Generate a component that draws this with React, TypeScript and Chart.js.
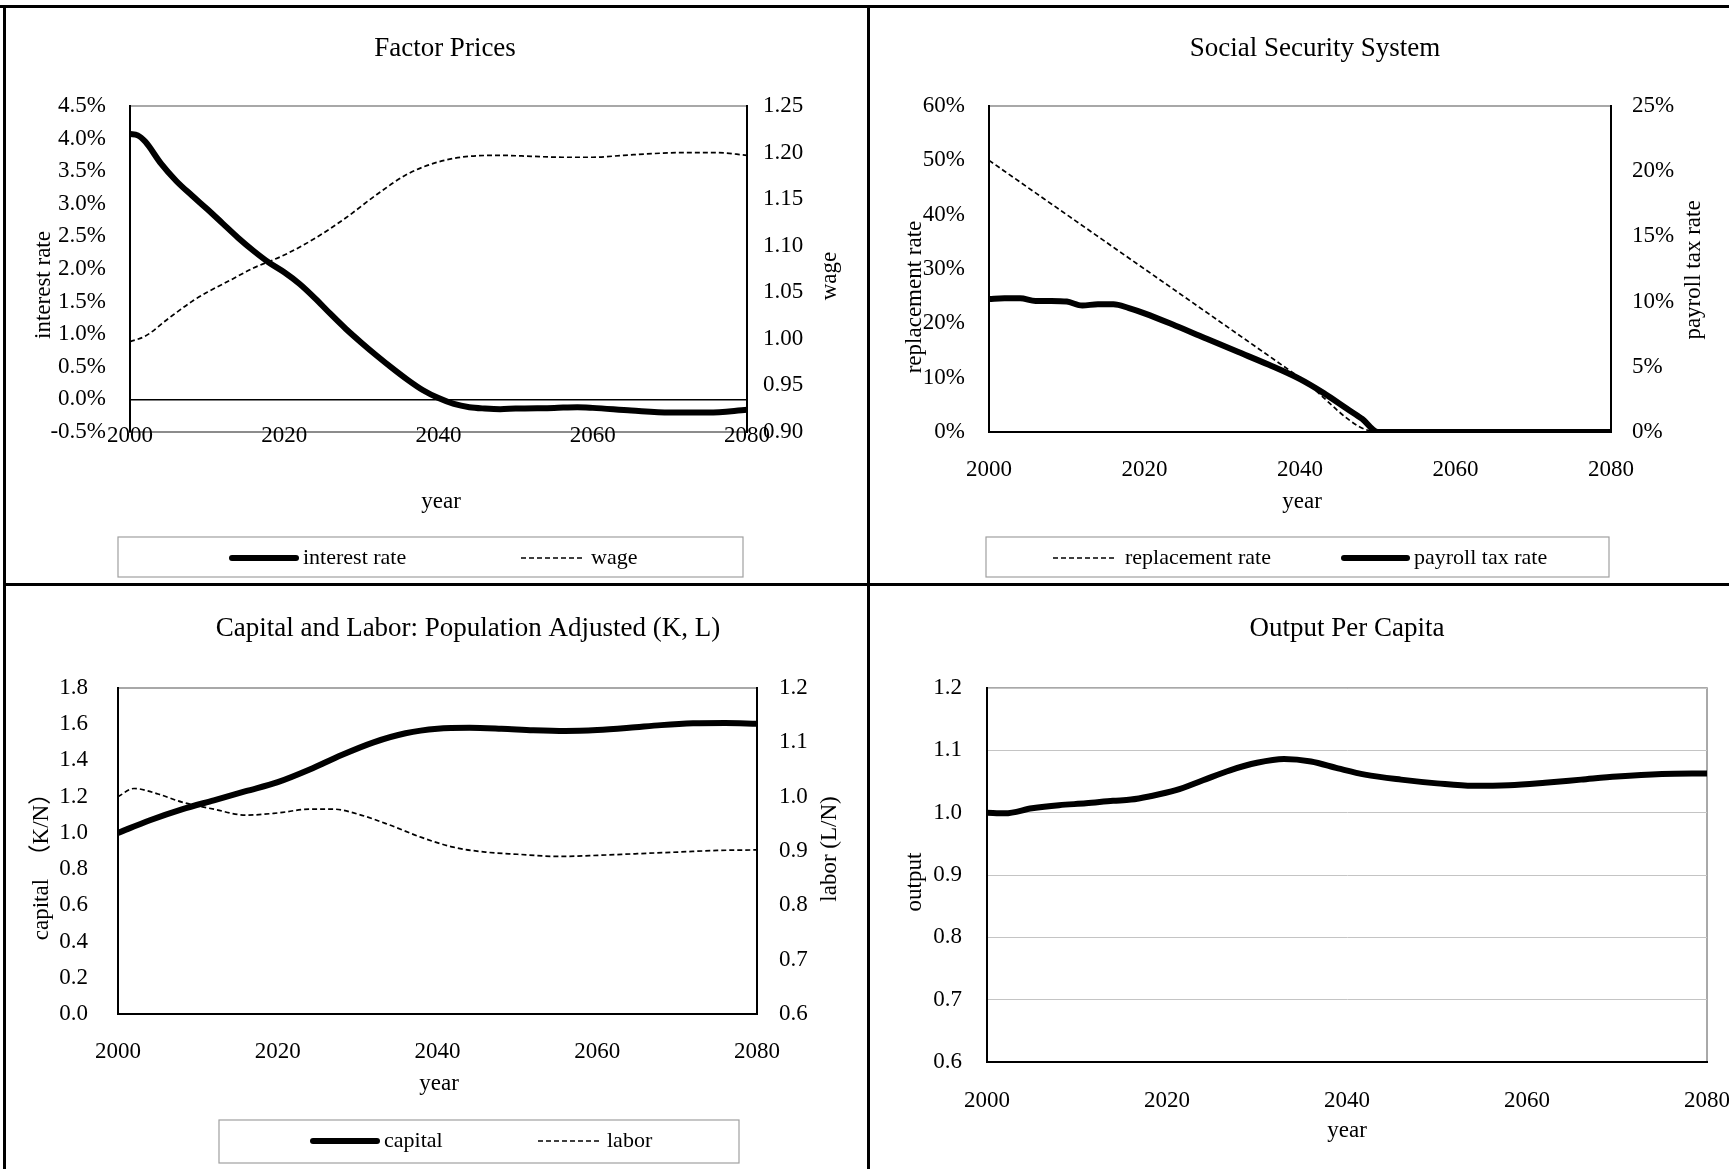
import React, { useEffect, useRef } from "react";
import { Chart, registerables } from "chart.js";
Chart.register(...registerables);

const FONT = '"Liberation Serif", "Times New Roman", "Noto Sans CJK JP", serif';
const TICK = 23;
const TITLE = 27;
const AXT = 23;
const LEG = 22;

// ---------- Factor Prices ----------
const YEARS_RATE = [2000, 2001, 2002, 2004, 2006, 2008, 2010, 2012, 2014, 2016, 2018, 2020, 2022, 2024, 2026, 2028, 2030, 2032, 2034, 2036, 2038, 2040, 2042, 2044, 2046, 2048, 2050, 2055, 2058, 2060, 2065, 2070, 2075, 2080];
const INTEREST_RATE = [4.07, 4.05, 3.95, 3.62, 3.35, 3.13, 2.92, 2.7, 2.48, 2.28, 2.1, 1.95, 1.77, 1.55, 1.31, 1.08, 0.87, 0.67, 0.48, 0.3, 0.14, 0.02, -0.07, -0.12, -0.14, -0.15, -0.14, -0.13, -0.12, -0.13, -0.17, -0.2, -0.2, -0.16];
const YEARS_WAGE = [2000, 2002, 2005, 2008, 2010, 2013, 2016, 2020, 2024, 2028, 2032, 2036, 2040, 2044, 2048, 2052, 2056, 2060, 2064, 2068, 2072, 2076, 2080];
const WAGE = [0.997, 1.003, 1.022, 1.04, 1.05, 1.063, 1.076, 1.09, 1.108, 1.13, 1.155, 1.177, 1.19, 1.196, 1.197, 1.196, 1.195, 1.195, 1.197, 1.199, 1.2, 1.2, 1.197];

// ---------- Social Security System ----------
const YEARS_REPL = [2000, 2010, 2020, 2030, 2040, 2050, 2060, 2070, 2080];
const REPLACEMENT_RATE = [50, 40, 30, 20, 10, 0, 0, 0, 0];
const YEARS_TAX = [2000, 2002, 2004, 2006, 2008, 2010, 2012, 2014, 2016, 2018, 2020, 2024, 2028, 2032, 2036, 2040, 2043, 2046, 2048, 2050, 2060, 2070, 2080];
const PAYROLL_TAX = [10.2, 10.25, 10.25, 10.05, 10.05, 10.0, 9.7, 9.8, 9.8, 9.5, 9.1, 8.15, 7.15, 6.15, 5.15, 4.05, 3.0, 1.8, 1.0, 0, 0, 0, 0];

// ---------- Capital and Labor ----------
const YEARS_K = [2000, 2004, 2008, 2012, 2016, 2020, 2024, 2028, 2032, 2036, 2040, 2044, 2048, 2052, 2056, 2060, 2064, 2068, 2072, 2076, 2080];
const CAPITAL = [1.0, 1.07, 1.13, 1.18, 1.23, 1.28, 1.35, 1.43, 1.5, 1.55, 1.575, 1.58, 1.575, 1.567, 1.563, 1.568, 1.58, 1.595, 1.605, 1.607, 1.603];
const YEARS_L = [2000, 2002, 2005, 2008, 2012, 2016, 2020, 2024, 2027, 2030, 2034, 2038, 2042, 2046, 2050, 2055, 2060, 2065, 2070, 2075, 2080];
const LABOR = [1.0, 1.015, 1.005, 0.99, 0.977, 0.966, 0.97, 0.977, 0.977, 0.968, 0.948, 0.925, 0.907, 0.898, 0.894, 0.89, 0.892, 0.895, 0.898, 0.901, 0.902];

// ---------- Output Per Capita ----------
const YEARS_Y = [2000, 2002, 2005, 2008, 2011, 2014, 2016, 2018, 2021, 2024, 2027, 2030, 2033, 2036, 2039, 2042, 2046, 2050, 2054, 2058, 2062, 2066, 2070, 2075, 2080];
const OUTPUT = [1.0, 0.999, 1.007, 1.012, 1.015, 1.019, 1.021, 1.026, 1.036, 1.052, 1.068, 1.08, 1.086, 1.082, 1.071, 1.061, 1.053, 1.047, 1.043, 1.044, 1.048, 1.053, 1.058, 1.062, 1.063];

const X_MIN = 2000;
const X_MAX = 2080;
const X_STEP = 20;

const pts = (xs: number[], ys: number[]) => xs.map((x, i) => ({ x, y: ys[i] }));

const solid = (label: string, xs: number[], ys: number[], axis: string) => ({
  label,
  data: pts(xs, ys),
  yAxisID: axis,
  borderColor: "#000",
  borderWidth: 6,
  borderCapStyle: "round",
  borderJoinStyle: "round",
  pointRadius: 0,
  cubicInterpolationMode: "monotone",
  fill: false,
});
const dashed = (label: string, xs: number[], ys: number[], axis: string) => ({
  label,
  data: pts(xs, ys),
  yAxisID: axis,
  borderColor: "#000",
  borderWidth: 1.7,
  borderDash: [5, 3],
  pointRadius: 0,
  cubicInterpolationMode: "monotone",
  fill: false,
});

type TextItem = { text: string; x: number; y: number; size: number; rot?: boolean };
type LegendItem = { ds: number; x1: number; x2: number; tx: number };
type Decor = {
  ox: number;
  oy: number;
  texts: TextItem[];
  legend?: { box: [number, number, number, number]; cy: number; items: LegendItem[] };
};

function makeDecor(d: Decor) {
  return {
    id: "decor",
    beforeDraw(chart: any) {
      const { ctx, chartArea: ca } = chart;
      ctx.save();
      ctx.strokeStyle = "#8c8c8c";
      ctx.lineWidth = 1.5;
      ctx.strokeRect(ca.left, ca.top, ca.right - ca.left, ca.bottom - ca.top);
      ctx.restore();
    },
    afterDraw(chart: any) {
      const ctx = chart.ctx;
      ctx.save();
      ctx.translate(-d.ox, -d.oy);
      ctx.fillStyle = "#000";
      ctx.textAlign = "center";
      ctx.textBaseline = "middle";
      for (const t of d.texts) {
        ctx.save();
        ctx.translate(t.x, t.y);
        if (t.rot) ctx.rotate(-Math.PI / 2);
        ctx.font = `${t.size}px ${FONT}`;
        ctx.fillText(t.text, 0, 0);
        ctx.restore();
      }
      if (d.legend) {
        const L = d.legend;
        ctx.strokeStyle = "#a0a0a0";
        ctx.lineWidth = 1.2;
        ctx.strokeRect(L.box[0], L.box[1], L.box[2] - L.box[0], L.box[3] - L.box[1]);
        for (const it of L.items) {
          const ds = chart.data.datasets[it.ds];
          ctx.save();
          ctx.beginPath();
          ctx.strokeStyle = "#000";
          ctx.lineWidth = ds.borderWidth;
          ctx.setLineDash(ds.borderDash || []);
          ctx.lineCap = ds.borderDash ? "butt" : "round";
          ctx.moveTo(it.x1, L.cy);
          ctx.lineTo(it.x2, L.cy);
          ctx.stroke();
          ctx.restore();
          ctx.textAlign = "left";
          ctx.font = `${LEG}px ${FONT}`;
          ctx.fillText(ds.label, it.tx, L.cy);
        }
      }
      ctx.restore();
    },
  };
}

type Box = { x0: number; y0: number; w: number; h: number; l: number; r: number; t: number; b: number };

const tickFont = { family: FONT, size: TICK };

function yAxis(pos: string, min: number, max: number, step: number, fmt: (v: number) => string, pad: number, width: number, grid: any = { display: false, drawTicks: false }, borderColor = "#000") {
  return {
    type: "linear",
    position: pos,
    min,
    max,
    ticks: { stepSize: step, padding: pad, callback: (v: any) => fmt(Number(v)), font: tickFont, color: "#000", autoSkip: false },
    grid,
    border: { display: true, color: borderColor, width: 2 },
    afterFit: (s: any) => {
      s.width = width;
      s.paddingTop = 0;
      s.paddingBottom = 0;
    },
  };
}

function xAxis(bx: Box, pad: number, borderColor = "#000", mirror = false) {
  return {
    type: "linear",
    position: "bottom",
    min: X_MIN,
    max: X_MAX,
    ticks: { stepSize: X_STEP, padding: pad, mirror, callback: (v: any) => String(v), font: tickFont, color: "#000", autoSkip: false, maxRotation: 0 },
    grid: { display: false, drawTicks: false },
    border: { display: true, color: borderColor, width: 2 },
    afterFit: (s: any) => {
      s.height = bx.y0 + bx.h - bx.b;
      s.paddingLeft = 0;
      s.paddingRight = 0;
    },
  };
}

function baseOptions(bx: Box, scales: any, padRight = 0) {
  return {
    responsive: false,
    animation: false,
    events: [],
    layout: { padding: { top: bx.t - bx.y0, left: 0, right: padRight, bottom: 0 } },
    plugins: { legend: { display: false }, title: { display: false }, tooltip: { enabled: false } },
    scales,
  };
}

type PanelSpec = { id: string; box: Box; build: () => any };

const B1: Box = { x0: 6, y0: 9, w: 860, h: 574, l: 130, r: 747, t: 106, b: 432 };
const B2: Box = { x0: 870, y0: 9, w: 859, h: 574, l: 989, r: 1611, t: 106, b: 432 };
const B3: Box = { x0: 6, y0: 587, w: 860, h: 582, l: 118, r: 757, t: 688, b: 1014 };
const B4: Box = { x0: 870, y0: 587, w: 859, h: 582, l: 987, r: 1707, t: 688, b: 1062 };

const PANELS: PanelSpec[] = [
  {
    id: "p1",
    box: B1,
    build: () => ({
      type: "line",
      data: {
        datasets: [solid("interest rate", YEARS_RATE, INTEREST_RATE, "y"), dashed("wage", YEARS_WAGE, WAGE, "y1")],
      },
      options: baseOptions(B1, {
        x: xAxis(B1, -17.8, "#8c8c8c", true),
        y: yAxis("left", -0.5, 4.5, 0.5, (v) => v.toFixed(1) + "%", 24, B1.l - B1.x0, {
          display: true,
          drawTicks: false,
          lineWidth: 1.5,
          color: (c: any) => (c.tick && Math.abs(c.tick.value) < 1e-9 ? "#000" : "rgba(0,0,0,0)"),
        }),
        y1: yAxis("right", 0.9, 1.25, 0.05, (v) => v.toFixed(2), 16, B1.x0 + B1.w - B1.r),
      }),
      plugins: [
        makeDecor({
          ox: B1.x0,
          oy: B1.y0,
          texts: [
            { text: "Factor Prices", x: 445, y: 49, size: TITLE },
            { text: "interest rate", x: 44, y: 285, size: AXT, rot: true },
            { text: "wage", x: 830, y: 276, size: AXT, rot: true },
            { text: "year", x: 441, y: 502, size: AXT },
          ],
          legend: {
            box: [118, 537, 743, 577],
            cy: 558,
            items: [
              { ds: 0, x1: 232, x2: 296, tx: 303 },
              { ds: 1, x1: 521, x2: 583, tx: 591 },
            ],
          },
        }),
      ],
    }),
  },
  {
    id: "p2",
    box: B2,
    build: () => ({
      type: "line",
      data: {
        datasets: [dashed("replacement rate", YEARS_REPL, REPLACEMENT_RATE, "y"), solid("payroll tax rate", YEARS_TAX, PAYROLL_TAX, "y1")],
      },
      options: baseOptions(B2, {
        x: xAxis(B2, 24),
        y: yAxis("left", 0, 60, 10, (v) => Math.round(v) + "%", 24, B2.l - B2.x0),
        y1: yAxis("right", 0, 25, 5, (v) => Math.round(v) + "%", 21, B2.x0 + B2.w - B2.r),
      }),
      plugins: [
        makeDecor({
          ox: B2.x0,
          oy: B2.y0,
          texts: [
            { text: "Social Security System", x: 1315, y: 49, size: TITLE },
            { text: "replacement rate", x: 915, y: 297, size: AXT, rot: true },
            { text: "payroll tax rate", x: 1694, y: 270, size: AXT, rot: true },
            { text: "year", x: 1302, y: 502, size: AXT },
          ],
          legend: {
            box: [986, 537, 1609, 577],
            cy: 558,
            items: [
              { ds: 0, x1: 1053, x2: 1117, tx: 1125 },
              { ds: 1, x1: 1344, x2: 1407, tx: 1414 },
            ],
          },
        }),
      ],
    }),
  },
  {
    id: "p3",
    box: B3,
    build: () => ({
      type: "line",
      data: {
        datasets: [solid("capital", YEARS_K, CAPITAL, "y"), dashed("labor", YEARS_L, LABOR, "y1")],
      },
      options: baseOptions(B3, {
        x: xAxis(B3, 24),
        y: yAxis("left", 0, 1.8, 0.2, (v) => v.toFixed(1), 30, B3.l - B3.x0),
        y1: yAxis("right", 0.6, 1.2, 0.1, (v) => v.toFixed(1), 22, B3.x0 + B3.w - B3.r),
      }),
      plugins: [
        makeDecor({
          ox: B3.x0,
          oy: B3.y0,
          texts: [
            { text: "Capital and Labor: Population Adjusted (K, L)", x: 468, y: 629, size: TITLE },
            { text: "capital\u3000（K/N）", x: 42, y: 861, size: AXT, rot: true },
            { text: "labor (L/N)", x: 830, y: 849, size: AXT, rot: true },
            { text: "year", x: 439, y: 1084, size: AXT },
          ],
          legend: {
            box: [219, 1120, 739, 1163],
            cy: 1141,
            items: [
              { ds: 0, x1: 313, x2: 377, tx: 384 },
              { ds: 1, x1: 538, x2: 602, tx: 607 },
            ],
          },
        }),
      ],
    }),
  },
  {
    id: "p4",
    box: B4,
    build: () => ({
      type: "line",
      data: {
        datasets: [solid("output", YEARS_Y, OUTPUT, "y")],
      },
      options: baseOptions(
        B4,
        {
          x: xAxis(B4, 25),
          y: yAxis("left", 0.6, 1.2, 0.1, (v) => v.toFixed(1), 25, B4.l - B4.x0, {
            display: true,
            drawTicks: false,
            color: "#c4c4c4",
            lineWidth: 1,
          }),
        },
        B4.x0 + B4.w - B4.r
      ),
      plugins: [
        makeDecor({
          ox: B4.x0,
          oy: B4.y0,
          texts: [
            { text: "Output Per Capita", x: 1347, y: 629, size: TITLE },
            { text: "output", x: 915, y: 882, size: AXT, rot: true },
            { text: "year", x: 1347, y: 1131, size: AXT },
          ],
        }),
      ],
    }),
  },
];

function Panel({ spec }: { spec: PanelSpec }) {
  const ref = useRef<HTMLCanvasElement>(null);
  useEffect(() => {
    const chart = new Chart(ref.current as HTMLCanvasElement, spec.build());
    return () => chart.destroy();
  }, [spec]);
  const b = spec.box;
  return (
    <canvas
      ref={ref}
      width={b.w}
      height={b.h}
      style={{ position: "absolute", left: b.x0, top: b.y0, width: b.w, height: b.h }}
    />
  );
}

const line = (left: number, top: number, width: number, height: number) => (
  <div style={{ position: "absolute", left, top, width, height, background: "#000" }} />
);

export default function App() {
  return (
    <div style={{ position: "absolute", left: 0, top: 0, width: 1729, height: 1169, background: "#fff", overflow: "hidden" }}>
      {line(0, 5, 1729, 3)}
      {line(3, 5, 3, 1164)}
      {line(867, 5, 3, 1164)}
      {line(3, 583, 1726, 3)}
      {PANELS.map((p) => (
        <Panel key={p.id} spec={p} />
      ))}
    </div>
  );
}
